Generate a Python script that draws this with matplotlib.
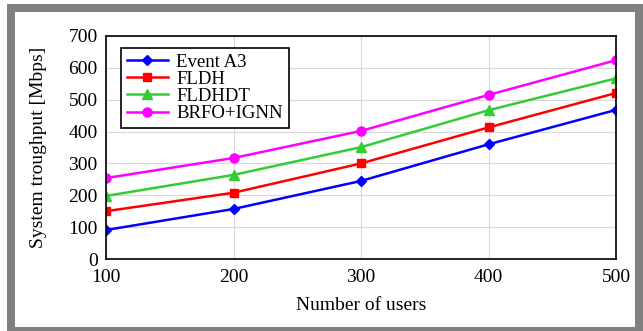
import matplotlib.pyplot as plt
from matplotlib.patches import Rectangle

users = [100, 200, 300, 400, 500]
event_a3 = [91, 157, 245, 360, 468]
fldh = [150, 208, 300, 413, 521]
fldhdt = [198, 264, 351, 467, 567]
brfo_ignn = [254, 317, 402, 515, 624]

plt.rcParams['font.family'] = ['Liberation Serif', 'DejaVu Serif']
plt.rcParams['font.size'] = 14

W, H = 643, 331
fig = plt.figure(figsize=(W / 100, H / 100), dpi=100, facecolor='white')
# grey frame with white page inside (pixel coords from top-left)
fig.patches.append(Rectangle((7 / W, -0.05), 1.0, (H - 4) / H + 0.05,
                             transform=fig.transFigure, facecolor='#808080',
                             edgecolor='none', zorder=-6))
fig.patches.append(Rectangle((15 / W, 4 / H), 620 / W, 315 / H,
                             transform=fig.transFigure, facecolor='white',
                             edgecolor='none', zorder=-5))
ax = fig.add_axes([106 / W, 72 / H, 510 / W, 223 / H])
ax.set_zorder(1)

ax.plot(users, event_a3, '-D', color='#0000ff', lw=1.8, ms=5.5, label='Event A3')
ax.plot(users, fldh, '-s', color='#ff0000', lw=1.8, ms=5.5, label='FLDH')
ax.plot(users, fldhdt, '-^', color='#33cc33', lw=1.8, ms=7, label='FLDHDT')
ax.plot(users, brfo_ignn, '-o', color='#ff00ff', lw=1.8, ms=6.5, label='BRFO+IGNN')

ax.set_xlim(100, 500)
ax.set_ylim(0, 700)
ax.set_xticks(users)
ax.set_yticks(range(0, 701, 100))
ax.grid(True, color='#d9d9d9', lw=0.8)
ax.set_axisbelow(True)
ax.tick_params(length=0)
ax.tick_params(axis='x', pad=7)
ax.tick_params(axis='y', pad=6)
for s in ax.spines.values():
    s.set_linewidth(1.2)

ax.set_xlabel('Number of users', labelpad=8)
ax.set_ylabel('System troughput [Mbps]', labelpad=15)

leg = ax.legend(loc='upper left', bbox_to_anchor=(15 / 510, 1 - 12 / 223),
                borderaxespad=0, fancybox=False, edgecolor='black',
                framealpha=1, fontsize=13.5, handlelength=2.2,
                borderpad=0.3, labelspacing=0.0, handletextpad=0.45)
leg.get_frame().set_linewidth(1.2)

fig.savefig('out.png', dpi=100)
